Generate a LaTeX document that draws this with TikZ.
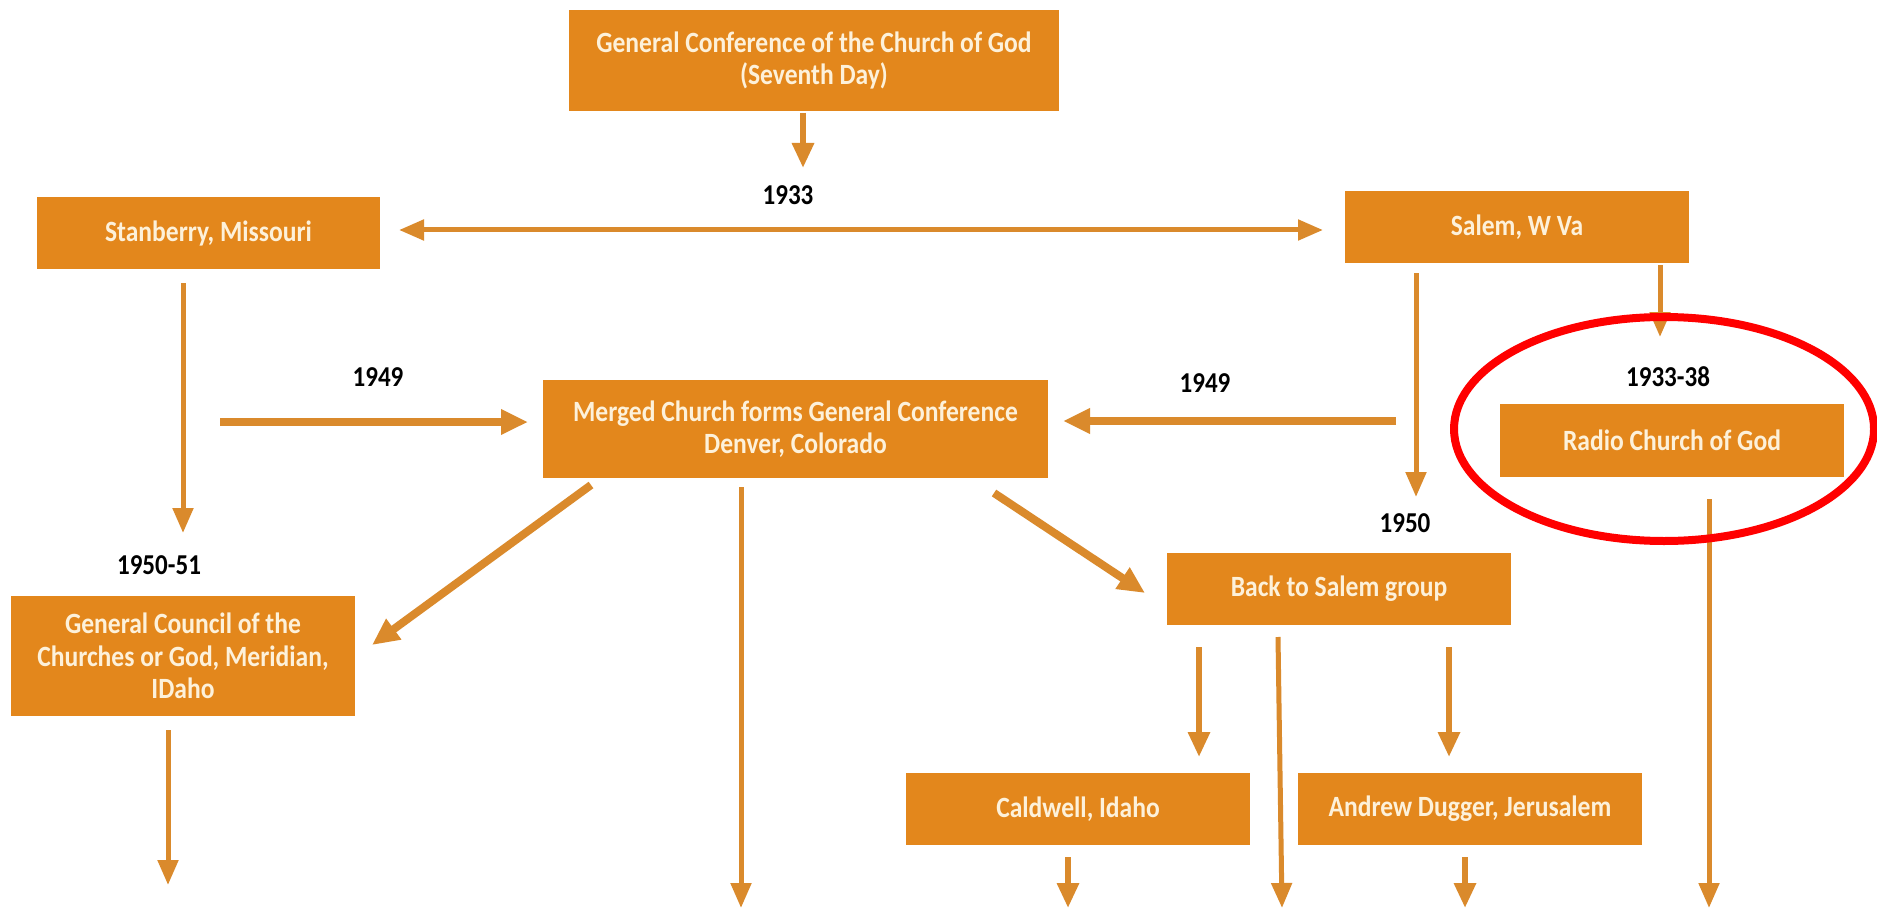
\documentclass[tikz,border=0pt]{standalone}
\usepackage{fontspec}
\setmainfont{Carlito}[FakeStretch=0.87]
\usetikzlibrary{arrows.meta}
\definecolor{boxor}{HTML}{E3871C}
\definecolor{arrowor}{HTML}{DA8A2C}
\definecolor{boxtxt}{HTML}{FDF1DA}
\begin{document}
\begin{tikzpicture}[x=0.5pt,y=-0.5pt,
  box/.style={fill=boxor, text=boxtxt, font=\fontsize{14.7}{16.3}\selectfont\bfseries, inner sep=0pt, align=center},
  lbl/.style={font=\fontsize{14.4}{16}\selectfont\bfseries, text=black, inner sep=0pt},
  arr/.style={draw=arrowor, line width=2.5pt, -{Triangle[length=12.5pt,width=10pt]}},
  tarr/.style={draw=arrowor, line width=4pt, -{Triangle[length=13.5pt,width=12pt]}},
  marr/.style={draw=arrowor, line width=3pt, -{Triangle[length=12.5pt,width=10.5pt]}}]
\useasboundingbox (0,0) rectangle (1877,909);
\fill[white] (0,0) rectangle (1877,909);

% boxes
\node[box, minimum width=245pt, minimum height=50.5pt] (gc) at (814,60.5) {General Conference of the Church of God\\(Seventh Day)};
\node[box, minimum width=171.5pt, minimum height=36pt] (stan) at (208.5,233) {Stanberry, Missouri};
\node[box, minimum width=172pt, minimum height=36pt] (salem) at (1517,227) {Salem, W Va};
\node[box, minimum width=252.5pt, minimum height=49pt] (merged) at (795.5,429) {Merged Church forms General Conference\\Denver, Colorado};
\node[box, minimum width=172pt, minimum height=36.5pt] (radio) at (1672,440.5) {Radio Church of God};
\node[box, minimum width=172pt, minimum height=60pt] (council) at (183,656) {General Council of the\\Churches or God, Meridian,\\IDaho};
\node[box, minimum width=172pt, minimum height=36pt] (back) at (1339,589) {Back to Salem group};
\node[box, minimum width=172pt, minimum height=36pt] (caldwell) at (1078,809) {Caldwell, Idaho};
\node[box, minimum width=172pt, minimum height=36pt] (andrew) at (1470,809) {Andrew Dugger, Jerusalem};

% labels
\node[lbl] (l1933) at (788,195) {1933};
\node[lbl] (l1949a) at (378,377) {1949};
\node[lbl] (l1949b) at (1205,383) {1949};
\node[lbl] (l193338) at (1668,377) {1933-38};
\node[lbl] (l195051) at (159,565) {1950-51};
\node[lbl] (l1950) at (1405,523) {1950};

% connector ends
\coordinate (gcS) at (803,113);   \coordinate (gcE) at (803,168);
\coordinate (dL) at (399,230);    \coordinate (dR) at (1323,230);
\coordinate (stS) at (183,283);   \coordinate (stE) at (183,533);
\coordinate (laS) at (220,422);   \coordinate (laE) at (528,422);
\coordinate (lbS) at (1396,421);  \coordinate (lbE) at (1063,421);
\coordinate (saS) at (1416,273);  \coordinate (saE) at (1416,497);
\coordinate (raS) at (1660,265);  \coordinate (raE) at (1660,337);
\coordinate (mcS) at (591,485);   \coordinate (mcE) at (372,645);
\coordinate (coS) at (168,730);   \coordinate (coE) at (168,885);
\coordinate (mdS) at (741,487);   \coordinate (mdE) at (741,908);
\coordinate (mbS) at (994,493);   \coordinate (mbE) at (1145,593);
\coordinate (b1S) at (1199,647);  \coordinate (b1E) at (1199,757);
\coordinate (b2S) at (1278,637);  \coordinate (b2E) at (1282,908);
\coordinate (b3S) at (1449,647);  \coordinate (b3E) at (1449,757);
\coordinate (rdS) at (1709,499);  \coordinate (rdE) at (1709,908);
\coordinate (cdS) at (1068,857);  \coordinate (cdE) at (1068,908);
\coordinate (adS) at (1465,857);  \coordinate (adE) at (1465,908);

% connectors
\draw[marr] (gcS) -- (gcE);
\draw[arr, {Triangle[length=12.5pt,width=10pt]}-{Triangle[length=12.5pt,width=10pt]}] (dL) -- (dR);
\draw[arr] (stS) -- (stE);
\draw[tarr] (laS) -- (laE);
\draw[tarr] (lbS) -- (lbE);
\draw[arr] (saS) -- (saE);
\draw[arr] (raS) -- (raE);
\draw[tarr] (mcS) -- (mcE);
\draw[arr] (coS) -- (coE);
\draw[arr] (mdS) -- (mdE);
\draw[tarr] (mbS) -- (mbE);
\draw[marr] (b1S) -- (b1E);
\draw[arr] (b2S) -- (b2E);
\draw[marr] (b3S) -- (b3E);
\draw[arr] (rdS) -- (rdE);
\draw[marr] (cdS) -- (cdE);
\draw[marr] (adS) -- (adE);

% highlight
\draw[red, line width=4pt] (1664,429) ellipse [x radius=210, y radius=112];
\end{tikzpicture}
\end{document}
